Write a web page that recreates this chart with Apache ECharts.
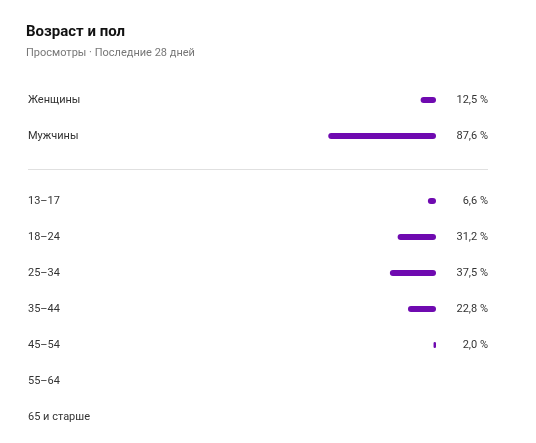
<!doctype html>
<html>
<head>
<meta charset="UTF-8">
<script src="https://cdn.jsdelivr.net/npm/echarts@6/dist/echarts.min.js"></script>
<style>
html,body{margin:0;padding:0;background:#fff;}
#chart{width:536px;height:443px;}
</style>
</head>
<body>
<div id="chart"></div>
<script>
var genderNames = ['Женщины', 'Мужчины'];
var genderValues = [12.5, 87.6];
var ageNames = ['13–17', '18–24', '25–34', '35–44', '45–54', '55–64', '65 и старше'];
var ageValues = [6.6, 31.2, 37.5, 22.8, 2.0, null, null];

var barColor = '#6f0ab0';
var labelFont = {color: '#333', fontSize: 11, fontFamily: 'Roboto'};

function fmt(v) {
	return v == null ? '' : v.toFixed(1).replace('.', ',') + ' %';
}

function axes(idx, names, values) {
	var left = {
		gridIndex: idx, type: 'category', data: names, inverse: true,
		axisLine: {show: false}, axisTick: {show: false},
		axisLabel: Object.assign({margin: 285, align: 'left'}, labelFont)
	};
	var right = {
		gridIndex: idx, type: 'category', data: values.map(fmt), inverse: true, position: 'right',
		axisLine: {show: false}, axisTick: {show: false},
		axisLabel: Object.assign({margin: 52, align: 'right'}, labelFont)
	};
	return [left, right];
}

var chart = echarts.init(document.getElementById('chart'));
chart.setOption({
	animation: false,
	title: {
		text: 'Возраст и пол',
		subtext: 'Просмотры · Последние 28 дней',
		left: 21, top: 20, itemGap: 8,
		textStyle: {fontSize: 15, fontWeight: 'bold', color: '#111', fontFamily: 'Roboto'},
		subtextStyle: {fontSize: 11, color: '#777', fontFamily: 'Roboto'}
	},
	grid: [
		{left: 313, right: 100, top: 82, height: 72},
		{left: 313, right: 100, top: 183, height: 252}
	],
	xAxis: [0, 1].map(function (i) {
		return {gridIndex: i, type: 'value', min: 0, max: 100, inverse: true, show: false};
	}),
	yAxis: axes(0, genderNames, genderValues).concat(axes(1, ageNames, ageValues)),
	graphic: [{
		type: 'line', shape: {x1: 28, y1: 169.5, x2: 488, y2: 169.5},
		style: {stroke: '#e0e0e0', lineWidth: 1}
	}],
	series: [
		{type: 'bar', xAxisIndex: 0, yAxisIndex: 0, data: genderValues, barWidth: 6,
			itemStyle: {color: barColor, borderRadius: 3}},
		{type: 'bar', xAxisIndex: 1, yAxisIndex: 2, barMinHeight: 0, data: ageValues.map(function (v) { return v == null ? '-' : v; }), barWidth: 6,
			itemStyle: {color: barColor, borderRadius: 3}}
	]
});
</script>
</body>
</html>
